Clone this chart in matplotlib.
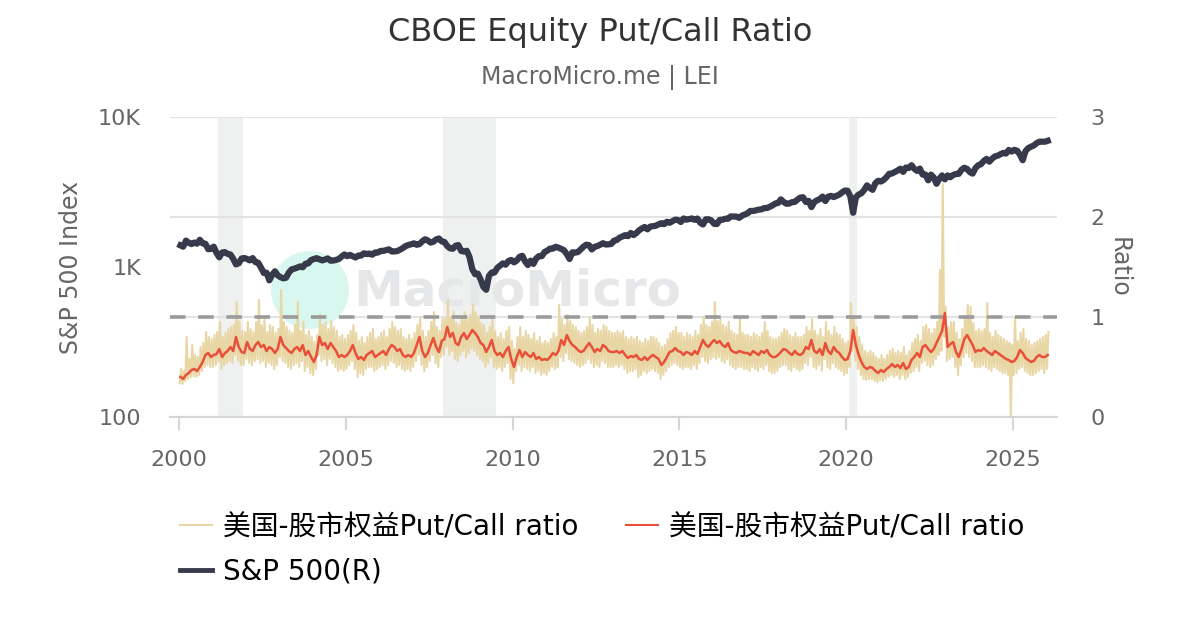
import matplotlib
matplotlib.use("Agg")
import matplotlib.pyplot as plt
from matplotlib.patches import Ellipse
from matplotlib.font_manager import FontProperties
from matplotlib.lines import Line2D
from matplotlib.ticker import NullLocator
import numpy as np

plt.rcParams["font.family"] = ["DejaVu Sans", "Noto Sans CJK SC"]

# ── Data (monthly, Jan 2000 .. Jan 2026) ─────────────────
START_YEAR = 2000

SP500 = [
    1394, 1366, 1499, 1452, 1421, 1455, 1431, 1518, 1437, 1429, 1315, 1320,  # 2000
    1366, 1240, 1160, 1249, 1256, 1224, 1211, 1134, 1041, 1060, 1139, 1148,  # 2001
    1130, 1107, 1147, 1077, 1067, 990, 912, 916, 815, 886, 936, 880,         # 2002
    856, 841, 848, 917, 964, 975, 990, 1008, 996, 1051, 1058, 1112,          # 2003
    1131, 1145, 1126, 1107, 1121, 1141, 1102, 1104, 1115, 1130, 1174, 1212,  # 2004
    1181, 1204, 1181, 1157, 1192, 1191, 1234, 1220, 1229, 1207, 1249, 1248,  # 2005
    1280, 1281, 1295, 1311, 1270, 1270, 1277, 1304, 1336, 1378, 1401, 1418,  # 2006
    1438, 1407, 1421, 1482, 1531, 1503, 1455, 1474, 1527, 1549, 1481, 1468,  # 2007
    1379, 1331, 1323, 1386, 1400, 1280, 1267, 1283, 1165, 969, 896, 903,     # 2008
    826, 735, 705, 873, 919, 919, 987, 1021, 1057, 1036, 1096, 1115,         # 2009
    1074, 1104, 1169, 1187, 1089, 1031, 1102, 1049, 1141, 1183, 1181, 1258,  # 2010
    1286, 1327, 1326, 1364, 1345, 1321, 1292, 1219, 1131, 1253, 1247, 1258,  # 2011
    1312, 1366, 1408, 1398, 1310, 1362, 1379, 1407, 1441, 1412, 1416, 1426,  # 2012
    1498, 1515, 1569, 1598, 1631, 1606, 1686, 1633, 1682, 1757, 1806, 1848,  # 2013
    1783, 1859, 1872, 1884, 1924, 1960, 1931, 2003, 1972, 2018, 2068, 2059,  # 2014
    1995, 2105, 2068, 2086, 2107, 2063, 2104, 1972, 1920, 2079, 2080, 2044,  # 2015
    1940, 1932, 2060, 2065, 2097, 2099, 2174, 2171, 2168, 2126, 2199, 2239,  # 2016
    2279, 2364, 2363, 2384, 2412, 2423, 2470, 2472, 2519, 2575, 2648, 2674,  # 2017
    2824, 2714, 2641, 2648, 2705, 2718, 2816, 2902, 2914, 2712, 2760, 2507,  # 2018
    2704, 2784, 2834, 2946, 2752, 2942, 2980, 2926, 2977, 3038, 3141, 3231,  # 2019
    3226, 2954, 2300, 2912, 3044, 3100, 3271, 3500, 3363, 3270, 3622, 3756,  # 2020
    3714, 3811, 3973, 4181, 4204, 4298, 4395, 4523, 4308, 4605, 4567, 4766,  # 2021
    4516, 4374, 4530, 4132, 4132, 3785, 4130, 3955, 3586, 3872, 4080, 3840,  # 2022
    4077, 3970, 4109, 4169, 4180, 4450, 4589, 4508, 4288, 4194, 4568, 4770,  # 2023
    4846, 5096, 5254, 5036, 5278, 5460, 5522, 5648, 5762, 5705, 6032, 5882,  # 2024
    6041, 5955, 5612, 5150, 5912, 6205, 6339, 6460, 6688, 6840, 6849, 6845,  # 2025
    6940,                                                                    # 2026
]

# smoothed put/call ratio (red)
RATIO_MA = [
    0.40, 0.38, 0.42, 0.44, 0.47, 0.48, 0.46, 0.50, 0.55, 0.62, 0.64, 0.60,
    0.62, 0.63, 0.68, 0.60, 0.64, 0.66, 0.70, 0.66, 0.80, 0.70, 0.65, 0.64,
    0.75, 0.68, 0.66, 0.72, 0.75, 0.70, 0.72, 0.66, 0.70, 0.68, 0.64, 0.68,
    0.80, 0.72, 0.69, 0.66, 0.64, 0.68, 0.70, 0.66, 0.72, 0.62, 0.66, 0.60,
    0.55, 0.62, 0.80, 0.72, 0.74, 0.68, 0.74, 0.70, 0.66, 0.60, 0.62, 0.60,
    0.62, 0.66, 0.72, 0.64, 0.58, 0.60, 0.57, 0.62, 0.64, 0.66, 0.60, 0.62,
    0.64, 0.66, 0.62, 0.68, 0.72, 0.70, 0.66, 0.68, 0.62, 0.60, 0.62, 0.60,
    0.64, 0.72, 0.80, 0.66, 0.60, 0.64, 0.72, 0.79, 0.70, 0.65, 0.76, 0.78,
    0.90, 0.80, 0.84, 0.74, 0.72, 0.80, 0.84, 0.78, 0.82, 0.87, 0.84, 0.80,
    0.74, 0.72, 0.65, 0.70, 0.77, 0.66, 0.62, 0.64, 0.60, 0.66, 0.70, 0.58,
    0.50, 0.60, 0.67, 0.60, 0.65, 0.62, 0.60, 0.64, 0.58, 0.60, 0.57, 0.58,
    0.57, 0.60, 0.64, 0.62, 0.66, 0.77, 0.72, 0.82, 0.76, 0.72, 0.70, 0.67,
    0.65, 0.66, 0.70, 0.74, 0.70, 0.65, 0.68, 0.66, 0.72, 0.70, 0.66, 0.65,
    0.65, 0.66, 0.64, 0.66, 0.62, 0.59, 0.61, 0.60, 0.62, 0.58, 0.57, 0.60,
    0.57, 0.60, 0.62, 0.60, 0.58, 0.52, 0.55, 0.60, 0.65, 0.66, 0.69, 0.66,
    0.65, 0.62, 0.65, 0.64, 0.62, 0.66, 0.63, 0.70, 0.77, 0.72, 0.70, 0.74,
    0.77, 0.74, 0.76, 0.72, 0.70, 0.74, 0.67, 0.65, 0.64, 0.66, 0.65, 0.64,
    0.64, 0.62, 0.66, 0.64, 0.62, 0.66, 0.64, 0.67, 0.62, 0.60, 0.60, 0.62,
    0.65, 0.68, 0.67, 0.64, 0.62, 0.66, 0.63, 0.62, 0.64, 0.70, 0.68, 0.77,
    0.66, 0.64, 0.68, 0.62, 0.74, 0.66, 0.63, 0.70, 0.66, 0.64, 0.60, 0.57,
    0.58, 0.66, 0.87, 0.72, 0.62, 0.55, 0.50, 0.48, 0.50, 0.49, 0.46, 0.44,
    0.47, 0.45, 0.48, 0.50, 0.53, 0.50, 0.52, 0.49, 0.54, 0.48, 0.50, 0.57,
    0.60, 0.64, 0.60, 0.70, 0.72, 0.68, 0.65, 0.68, 0.74, 0.80, 0.86, 1.04,
    0.70, 0.73, 0.75, 0.65, 0.60, 0.68, 0.78, 0.82, 0.77, 0.72, 0.65, 0.67,
    0.66, 0.69, 0.66, 0.64, 0.62, 0.66, 0.64, 0.62, 0.60, 0.58, 0.57, 0.55,
    0.56, 0.60, 0.67, 0.64, 0.59, 0.57, 0.55, 0.56, 0.60, 0.62, 0.60, 0.60,
    0.62,
]

# raw daily ratio (beige), monthly highs and lows
RATIO_HI = [
    0.48, 0.46, 0.80, 0.58, 0.72, 0.62, 0.60, 0.70, 0.74, 0.85, 0.80, 0.78,
    0.82, 0.85, 0.95, 0.80, 0.84, 0.88, 0.90, 0.92, 1.15, 0.95, 0.86, 0.85,
    0.95, 0.88, 0.85, 0.95, 1.17, 0.92, 0.98, 0.85, 0.92, 0.90, 0.84, 0.88,
    1.27, 0.95, 0.90, 0.86, 0.84, 0.92, 1.15, 0.86, 0.95, 0.82, 0.86, 0.80,
    0.75, 0.82, 1.02, 0.92, 0.95, 0.88, 0.96, 0.90, 0.86, 0.80, 0.82, 0.78,
    0.82, 0.86, 0.92, 0.84, 0.76, 0.80, 0.74, 0.80, 0.84, 0.88, 0.78, 0.80,
    0.84, 0.86, 0.80, 0.88, 0.95, 0.90, 0.86, 0.88, 0.80, 0.78, 0.82, 0.78,
    0.84, 0.92, 1.00, 0.86, 0.80, 0.86, 0.95, 1.05, 0.90, 0.86, 0.98, 0.98,
    1.17, 1.00, 1.05, 0.94, 0.92, 1.00, 1.05, 0.98, 1.02, 1.12, 1.05, 1.00,
    0.94, 0.92, 0.84, 0.90, 0.98, 0.86, 0.80, 0.84, 0.78, 0.86, 0.90, 0.76,
    0.68, 0.80, 0.90, 0.80, 0.86, 0.82, 0.78, 0.84, 0.76, 0.80, 0.74, 0.76,
    0.74, 0.78, 0.84, 0.80, 1.12, 0.98, 0.92, 1.02, 0.96, 0.92, 0.90, 0.86,
    0.84, 0.86, 0.90, 0.99, 0.92, 0.84, 0.88, 0.86, 0.92, 0.90, 0.86, 0.84,
    0.84, 0.86, 0.84, 0.86, 0.80, 0.78, 0.80, 0.78, 0.80, 0.76, 0.74, 0.78,
    0.76, 0.80, 0.80, 0.78, 0.74, 0.70, 0.72, 0.78, 0.84, 0.86, 0.90, 0.84,
    0.84, 0.80, 0.84, 0.82, 0.80, 0.86, 0.82, 0.92, 1.00, 0.92, 0.90, 0.95,
    1.15, 0.96, 0.98, 0.92, 0.90, 0.95, 0.86, 0.84, 0.82, 0.99, 0.84, 0.82,
    0.82, 0.80, 0.84, 0.82, 0.80, 0.84, 0.95, 0.86, 0.80, 0.78, 0.78, 0.80,
    0.84, 0.88, 0.86, 0.82, 0.80, 0.84, 0.80, 0.80, 0.82, 0.90, 0.86, 0.98,
    0.86, 0.82, 0.88, 0.80, 0.95, 0.86, 0.82, 0.90, 0.84, 0.82, 0.78, 0.74,
    0.76, 1.14, 1.00, 0.90, 0.80, 0.72, 0.66, 0.64, 0.66, 0.64, 0.60, 0.58,
    0.62, 0.58, 0.62, 0.66, 0.68, 0.64, 0.66, 0.64, 0.70, 0.62, 0.66, 0.74,
    0.78, 0.82, 0.76, 0.90, 0.92, 0.88, 0.84, 0.88, 0.95, 1.47, 2.33, 1.10,
    0.90, 0.95, 0.95, 0.84, 0.78, 0.88, 1.00, 1.12, 1.10, 0.94, 0.86, 0.88,
    0.86, 0.88, 1.14, 0.84, 0.80, 0.86, 0.82, 0.80, 0.78, 0.76, 0.74, 0.72,
    1.00, 0.76, 0.84, 0.88, 0.78, 0.76, 0.72, 0.74, 0.76, 0.78, 0.80, 0.82,
    0.85,
]

RATIO_LO = [
    0.34, 0.33, 0.36, 0.38, 0.40, 0.41, 0.40, 0.42, 0.46, 0.50, 0.52, 0.50,
    0.50, 0.52, 0.55, 0.48, 0.52, 0.54, 0.56, 0.54, 0.62, 0.56, 0.52, 0.52,
    0.58, 0.54, 0.52, 0.56, 0.58, 0.54, 0.56, 0.50, 0.54, 0.52, 0.48, 0.52,
    0.60, 0.56, 0.54, 0.50, 0.48, 0.52, 0.54, 0.50, 0.56, 0.46, 0.50, 0.44,
    0.42, 0.48, 0.62, 0.56, 0.58, 0.52, 0.58, 0.54, 0.50, 0.46, 0.48, 0.46,
    0.48, 0.52, 0.56, 0.48, 0.40, 0.44, 0.42, 0.48, 0.50, 0.50, 0.46, 0.48,
    0.50, 0.52, 0.48, 0.52, 0.56, 0.54, 0.50, 0.52, 0.48, 0.46, 0.48, 0.46,
    0.50, 0.56, 0.62, 0.52, 0.46, 0.50, 0.56, 0.62, 0.54, 0.50, 0.60, 0.62,
    0.70, 0.62, 0.66, 0.58, 0.56, 0.62, 0.66, 0.60, 0.64, 0.68, 0.66, 0.62,
    0.58, 0.56, 0.50, 0.54, 0.60, 0.50, 0.48, 0.50, 0.46, 0.50, 0.54, 0.38,
    0.34, 0.46, 0.52, 0.46, 0.50, 0.48, 0.46, 0.50, 0.44, 0.46, 0.42, 0.44,
    0.42, 0.46, 0.50, 0.48, 0.50, 0.60, 0.56, 0.64, 0.58, 0.56, 0.54, 0.52,
    0.50, 0.52, 0.54, 0.58, 0.54, 0.50, 0.52, 0.50, 0.56, 0.54, 0.50, 0.50,
    0.50, 0.52, 0.50, 0.52, 0.48, 0.44, 0.46, 0.46, 0.48, 0.40, 0.42, 0.46,
    0.44, 0.46, 0.48, 0.46, 0.44, 0.38, 0.42, 0.46, 0.50, 0.52, 0.54, 0.52,
    0.50, 0.48, 0.50, 0.50, 0.48, 0.52, 0.48, 0.54, 0.60, 0.56, 0.54, 0.58,
    0.60, 0.58, 0.60, 0.56, 0.54, 0.58, 0.52, 0.50, 0.48, 0.50, 0.50, 0.48,
    0.48, 0.46, 0.50, 0.48, 0.46, 0.50, 0.48, 0.52, 0.46, 0.44, 0.44, 0.46,
    0.50, 0.52, 0.52, 0.48, 0.46, 0.50, 0.48, 0.46, 0.48, 0.54, 0.52, 0.60,
    0.50, 0.48, 0.52, 0.46, 0.58, 0.50, 0.48, 0.54, 0.50, 0.48, 0.46, 0.42,
    0.44, 0.50, 0.66, 0.56, 0.48, 0.42, 0.38, 0.37, 0.38, 0.38, 0.36, 0.35,
    0.37, 0.36, 0.38, 0.40, 0.42, 0.40, 0.42, 0.38, 0.42, 0.38, 0.40, 0.44,
    0.46, 0.50, 0.46, 0.54, 0.56, 0.52, 0.50, 0.52, 0.58, 0.62, 0.66, 0.80,
    0.56, 0.58, 0.60, 0.50, 0.42, 0.52, 0.60, 0.64, 0.60, 0.56, 0.50, 0.50,
    0.50, 0.52, 0.50, 0.48, 0.46, 0.50, 0.48, 0.46, 0.44, 0.44, 0.42, 0.00,
    0.42, 0.44, 0.48, 0.50, 0.46, 0.44, 0.42, 0.42, 0.44, 0.46, 0.48, 0.44,
    0.48,
]

# US recessions (decimal years)
RECESSIONS = [(2001.17, 2001.92), (2007.92, 2009.50), (2020.08, 2020.33)]

YEAR_TICKS = [2000, 2005, 2010, 2015, 2020, 2025]
LEFT_TICKS = [100, 1000, 10000]
LEFT_LABELS = ["100", "1K", "10K"]
RIGHT_TICKS = [0, 1, 2, 3]

LABEL_RAW = "美国-股市权益Put/Call ratio"
LABEL_MA = "美国-股市权益Put/Call ratio"
LABEL_SP = "S&P 500(R)"

# ── Colors ────────────────────────────────────────────────
C_RAW = "#e8d6a4"
C_MA = "#e8503a"
C_SP = "#363a4b"
C_TEXT = "#666666"
C_GRID = "#e3e3e3"

# ── Time axes ─────────────────────────────────────────────
months = np.arange(len(SP500))
t_mid = START_YEAR + (months + 0.5) / 12
t_raw = np.column_stack([START_YEAR + (months + 0.25) / 12,
                         START_YEAR + (months + 0.75) / 12]).ravel()
v_raw = np.column_stack([RATIO_LO, RATIO_HI]).ravel()

# ── Figure ────────────────────────────────────────────────
fig = plt.figure(figsize=(12, 6.3), dpi=100)
ax = fig.add_axes([170 / 1200, 1 - 417 / 630, 887 / 1200, 300 / 630])
ax2 = ax.twinx()

# ratio axis on the right, S&P on the left
ax.yaxis.tick_right()
ax.yaxis.set_label_position("right")
ax2.yaxis.tick_left()
ax2.yaxis.set_label_position("left")

for a in (ax, ax2):
    for s in a.spines.values():
        s.set_visible(False)
ax.spines["bottom"].set_visible(True)
ax.spines["bottom"].set_color("#d6d6d6")
ax.spines["bottom"].set_linewidth(1.5)

ax.set_xlim(1999.73, 2026.32)
ax.set_ylim(0, 3)
ax.set_yticks(RIGHT_TICKS)
ax.set_xticks(YEAR_TICKS)
ax.grid(axis="y", color=C_GRID, linewidth=1.5, zorder=0)
ax.set_axisbelow(True)
ax.tick_params(axis="x", length=9, width=1.5, color="#d6d6d6",
               labelsize=16, labelcolor=C_TEXT, pad=15)
ax.tick_params(axis="y", length=0, labelsize=16, labelcolor=C_TEXT, pad=24)
ax.set_ylabel("Ratio", rotation=270, fontsize=17, color=C_TEXT, labelpad=19)

# recession shading
for x0, x1 in RECESSIONS:
    ax.axvspan(x0, x1, color="#eff1f1", zorder=0.5, lw=0)

# watermark
ax.add_patch(Ellipse((310 / 1200, 1 - 290 / 630), 78 / 1200, 78 / 630,
                     transform=fig.transFigure, color="#d8f7ef", lw=0, zorder=0.6))
ax.text(0.392, 0.42, "MacroMicro", transform=ax.transAxes, fontsize=36,
        fontweight="bold", color="#e6e7e9", ha="center", va="center", zorder=0.6)

# ratio series
ax.plot(t_raw, v_raw, color=C_RAW, lw=1.5, zorder=2)
ax.axhline(1, color="#9b9b9b", lw=2.6, dashes=(4.3, 3.5), zorder=2.5)
ax.plot(t_mid, RATIO_MA, color=C_MA, lw=1.8, zorder=3)

# S&P 500 on the left log axis
ax2.set_yscale("log")
ax2.set_ylim(100, 10000)
ax2.yaxis.set_minor_locator(NullLocator())
ax2.set_yticks(LEFT_TICKS)
ax2.set_yticklabels(LEFT_LABELS)
ax2.tick_params(axis="y", length=0, labelsize=16, labelcolor=C_TEXT, pad=21)
ax2.set_ylabel("S&P 500 Index", fontsize=17, color=C_TEXT, labelpad=11)
ax2.plot(t_mid, SP500, color=C_SP, lw=4.5, zorder=4)

# titles
fig.text(0.5, 1 - 33 / 630, "CBOE Equity Put/Call Ratio", ha="center", va="center",
         fontsize=23, color="#333333")
fig.text(0.5, 1 - 77 / 630, "MacroMicro.me | LEI", ha="center", va="center",
         fontsize=17, color=C_TEXT)

# legend
handles = [
    Line2D([], [], color=C_RAW, lw=1.5, label=LABEL_RAW),
    Line2D([], [], color=C_SP, lw=3.5, label=LABEL_SP),
    Line2D([], [], color=C_MA, lw=1.5, label=LABEL_MA),
]
fig.legend(handles=handles, ncol=2, loc="upper left",
           bbox_to_anchor=(180 / 1200, 1 - 513 / 630), frameon=False,
           prop=FontProperties(family=["DejaVu Sans", "Noto Sans CJK SC"], size=20),
           handlelength=1.15, handletextpad=0.4, columnspacing=1.7,
           labelspacing=0.6, borderaxespad=0, borderpad=0)

fig.savefig("out.png", dpi=100)
